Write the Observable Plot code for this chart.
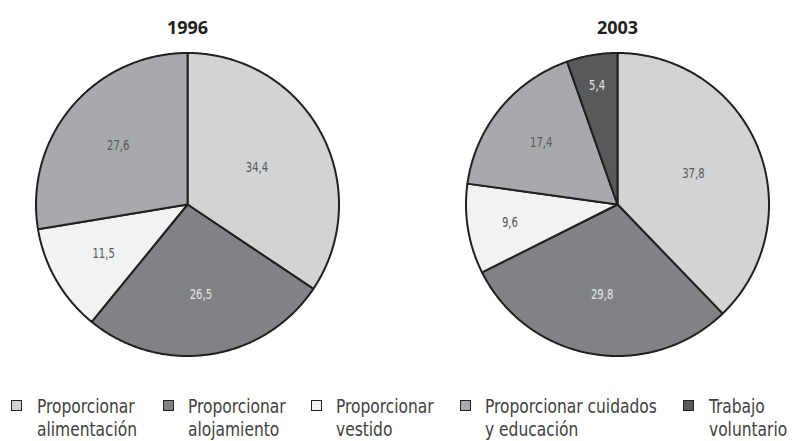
<!DOCTYPE html>
<html>
<head>
<meta charset="utf-8">
<script src="https://cdn.jsdelivr.net/npm/d3@7"></script>
<script src="https://cdn.jsdelivr.net/npm/@observablehq/plot@0.6"></script>
<style>
  html, body { margin: 0; padding: 0; background: #ffffff; }
  #wrap { position: relative; width: 793px; height: 441px; overflow: hidden; }
  #legend { position: absolute; left: 0; top: 395px; width: 793px; height: 46px; }
  .sw { position: absolute; top: 5px; width: 8.5px; height: 8.5px; border: 1.5px solid #231f20; }
  .lab { position: absolute; top: 0; white-space: nowrap; font-family: "Liberation Sans Narrow", "DejaVu Sans Condensed", sans-serif; font-size: 19px; line-height: 22.5px; color: #414042; transform: scaleX(0.905); transform-origin: 0 0; }
</style>
</head>
<body>
<div id="wrap">
  <div id="chart"></div>
  <div id="legend"></div>
</div>
<script>
// ---- data ----
const categories = [
  "Proporcionar alimentación",
  "Proporcionar alojamiento",
  "Proporcionar vestido",
  "Proporcionar cuidados y educación",
  "Trabajo voluntario"
];
const legendLines = [
  ["Proporcionar", "alimentación"],
  ["Proporcionar", "alojamiento"],
  ["Proporcionar", "vestido"],
  ["Proporcionar cuidados", "y educación"],
  ["Trabajo", "voluntario"]
];
const years = ["1996", "2003"];
const values1996 = [34.4, 26.5, 11.5, 27.6, 0];
const values2003 = [37.8, 29.8, 9.6, 17.4, 5.4];
const valueLabels1996 = ["34,4", "26,5", "11,5", "27,6", ""];
const valueLabels2003 = ["37,8", "29,8", "9,6", "17,4", "5,4"];

// ---- styles / layout ----
const colors = ["#d1d3d4", "#808285", "#f1f2f2", "#a7a9ac", "#58595b"];
const labelColors = ["#58595b", "#e6e7e8", "#58595b", "#58595b", "#e6e7e8"];
const labelRadius1996 = [0.52, 0.6, 0.64, 0.6, 0.6];
const labelRadius2003 = [0.54, 0.6, 0.72, 0.65, 0.8];
const legendSwatchX = [11, 163, 311, 460, 683];
const legendTextX = [37, 188, 336, 485, 709];

const series = [
  {year: "1996", values: values1996, labels: valueLabels1996, lr: labelRadius1996},
  {year: "2003", values: values2003, labels: valueLabels2003, lr: labelRadius2003}
];

const pie = d3.pie().sort(null).startAngle(0).endAngle(2 * Math.PI).value(d => d);
const points = [];
const labels = [];
for (const s of series) {
  const arcs = pie(s.values);
  arcs.forEach((a, i) => {
    if (!(s.values[i] > 0)) return;
    const key = s.year + "-" + i;
    points.push({year: s.year, key, cat: categories[i], x: 0, y: 0});
    const n = Math.max(2, Math.ceil((a.endAngle - a.startAngle) / 0.01));
    for (let k = 0; k <= n; k++) {
      const t = a.startAngle + (a.endAngle - a.startAngle) * k / n;
      points.push({year: s.year, key, cat: categories[i], x: Math.sin(t), y: Math.cos(t)});
    }
    points.push({year: s.year, key, cat: categories[i], x: 0, y: 0});
    const m = (a.startAngle + a.endAngle) / 2;
    labels.push({year: s.year, text: s.labels[i], color: labelColors[i],
      x: s.lr[i] * Math.sin(m), y: s.lr[i] * Math.cos(m)});
  });
}

const R = 165 / 151.5;
const chart = Plot.plot({
  width: 793,
  height: 380,
  marginLeft: 22,
  marginRight: 11,
  marginTop: 39,
  marginBottom: 11,
  style: {background: "#ffffff"},
  fx: {domain: years, paddingInner: 100 / 430, paddingOuter: 0, axis: null},
  x: {domain: [-R, R], axis: null},
  y: {domain: [-R, R], axis: null},
  color: {domain: categories, range: colors},
  marks: [
    Plot.line(points, {
      fx: "year", x: "x", y: "y", z: "key", fill: "cat",
      stroke: "#231f20", strokeWidth: 2, strokeLinejoin: "round", curve: "linear"
    }),
    Plot.text(labels, {
      fx: "year", x: "x", y: "y", text: "text", fill: d => d.color,
      fontFamily: "'Liberation Sans Narrow', 'DejaVu Sans Condensed', sans-serif",
      fontSize: 14, className: "pielab"
    }),
    Plot.text(years, {
      fx: d => d, text: d => d, frameAnchor: "top", dy: -18,
      fontFamily: "'Open Sans', sans-serif", fontWeight: "bold", fontSize: 18, fill: "#231f20"
    })
  ]
});
// condense the slice value labels horizontally (keeps Plot's positioning)
chart.querySelectorAll("g.pielab text").forEach(t => {
  const tr = t.getAttribute("transform") || "";
  t.setAttribute("transform", (tr + " scale(0.8,1)").trim());
});
document.getElementById("chart").appendChild(chart);

// ---- legend ----
const legend = document.getElementById("legend");
categories.forEach((c, i) => {
  const sw = document.createElement("div");
  sw.className = "sw";
  sw.style.left = legendSwatchX[i] + "px";
  sw.style.background = colors[i];
  legend.appendChild(sw);
  const lab = document.createElement("div");
  lab.className = "lab";
  lab.style.left = legendTextX[i] + "px";
  lab.innerHTML = legendLines[i].join("<br>");
  legend.appendChild(lab);
});
</script>
</body>
</html>
